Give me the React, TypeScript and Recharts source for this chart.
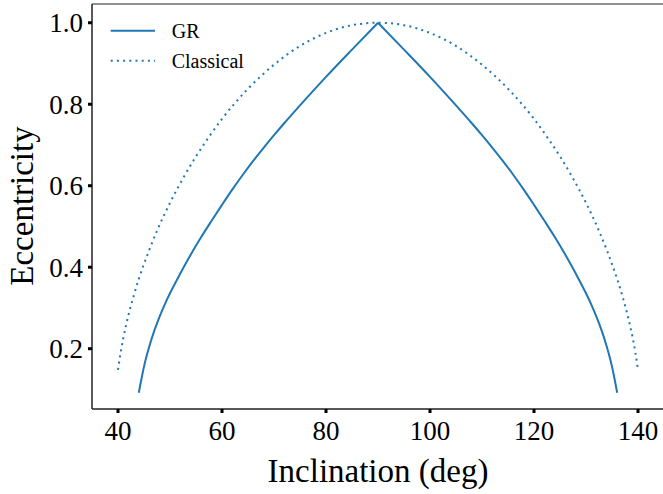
import React from 'react';
import { LineChart, Line, XAxis, YAxis, Legend, ReferenceArea } from 'recharts';

const BLUE = '#1f77b4';
const FONT = '"Liberation Serif", "DejaVu Serif", serif';

const X_DOMAIN = [35, 145];
const Y_DOMAIN = [0.052, 1.046];
const X_TICKS = [40, 60, 80, 100, 120, 140];
const Y_TICKS = [0.2, 0.4, 0.6, 0.8, 1.0];

// GR curve (solid); split at the cusp so each side stays smooth
const grLeftIncl = [44, 44.3, 44.7, 45, 45.5, 46, 47, 48, 49, 50, 52, 54, 56, 58, 60, 62, 64, 66, 68, 70, 72, 75, 80, 85, 90];
const grLeftEcc = [
  0.092, 0.112, 0.138, 0.156, 0.182, 0.205, 0.245, 0.279, 0.309, 0.336, 0.385, 0.431, 0.474, 0.514, 0.553,
  0.591, 0.627, 0.661, 0.693, 0.724, 0.754, 0.797, 0.867, 0.934, 1.0,
];
const grRightIncl = [90, 95, 100, 105, 108, 110, 112, 114, 116, 118, 120, 122, 124, 126, 128, 130, 131, 132, 133, 134, 134.5, 135, 135.3, 135.7, 136];
const grRightEcc = [
  1.0, 0.934, 0.867, 0.797, 0.754, 0.724, 0.693, 0.661, 0.627, 0.591, 0.553, 0.514, 0.474, 0.431, 0.385,
  0.336, 0.309, 0.279, 0.245, 0.205, 0.182, 0.156, 0.138, 0.112, 0.092,
];

// Classical curve (dotted)
const clIncl = [
  40, 40.5, 41, 41.5, 42, 43, 44, 45, 46, 47.5, 50, 52.5, 55, 57.5, 60, 62.5, 65, 70, 75, 80, 85, 90,
  95, 100, 105, 110, 115, 117.5, 120, 122.5, 125, 127.5, 130, 132.5, 134, 135, 136, 137, 138, 138.5, 139,
  139.5, 140,
];
const clEcc = [
  0.148, 0.19, 0.225, 0.255, 0.282, 0.329, 0.371, 0.408, 0.442, 0.489, 0.558, 0.618, 0.672, 0.72, 0.764,
  0.803, 0.838, 0.897, 0.943, 0.975, 0.994, 1.0, 0.994, 0.975, 0.943, 0.897, 0.838, 0.803, 0.764, 0.72,
  0.672, 0.618, 0.558, 0.489, 0.442, 0.408, 0.371, 0.329, 0.282, 0.255, 0.225, 0.19, 0.148,
];

const grLeft = grLeftIncl.map((x, i) => ({ x, y: grLeftEcc[i] }));
const grRight = grRightIncl.map((x, i) => ({ x, y: grRightEcc[i] }));
const clData = clIncl.map((x, i) => ({ x, y: clEcc[i] }));

function LegendBox() {
  return (
    <svg width={180} height={64} style={{ display: 'block' }}>
      <line x1={10.7} x2={55} y1={14.7} y2={14.7} stroke={BLUE} strokeWidth={2} />
      <text x={71.7} y={21.5} fontFamily={FONT} fontSize={20} fill="#000">GR</text>
      <line x1={10.7} x2={55} y1={44.7} y2={44.7} stroke={BLUE} strokeWidth={2} strokeDasharray="2 4.2" />
      <text x={71.7} y={51.5} fontFamily={FONT} fontSize={20} fill="#000">Classical</text>
    </svg>
  );
}

export default function App() {
  const tickStyle = { fontFamily: FONT, fontSize: 27, fill: '#000' };
  return (
    <div style={{ position: 'absolute', left: 0, top: 0, width: 663, height: 494, overflow: 'hidden', background: '#fff' }}>
      <LineChart width={664} height={494} margin={{ top: 4, right: 0, bottom: 0, left: 0 }}>
        <XAxis
          dataKey="x"
          type="number"
          domain={X_DOMAIN}
          ticks={X_TICKS}
          allowDataOverflow
          height={85}
          tick={tickStyle}
          tickSize={4}
          tickMargin={8}
          axisLine={{ stroke: '#222', strokeWidth: 1 }}
          tickLine={{ stroke: '#000', strokeWidth: 3 }}
          label={{
            content: () => (
              <text x={378} y={482} textAnchor="middle" fontFamily={FONT} fontSize={33} fill="#000">
                Inclination (deg)
              </text>
            ),
          }}
        />
        <YAxis
          type="number"
          domain={Y_DOMAIN}
          ticks={Y_TICKS}
          allowDataOverflow
          width={92}
          tick={tickStyle}
          tickSize={4}
          tickMargin={5}
          tickFormatter={(v: number) => v.toFixed(1)}
          axisLine={{ stroke: '#222', strokeWidth: 1 }}
          tickLine={{ stroke: '#000', strokeWidth: 3 }}
          label={{
            content: () => (
              <text
                x={33}
                y={206}
                transform="rotate(-90, 33, 206)"
                textAnchor="middle"
                fontFamily={FONT}
                fontSize={33}
                fill="#000"
              >
                Eccentricity
              </text>
            ),
          }}
        />
        {/* frame around the plot area */}
        <ReferenceArea
          x1={X_DOMAIN[0]}
          x2={X_DOMAIN[1]}
          y1={Y_DOMAIN[0]}
          y2={Y_DOMAIN[1]}
          fill="none"
          fillOpacity={0}
          stroke="#222"
          strokeWidth={1}
          ifOverflow="visible"
        />
        <Legend
          layout="horizontal"
          verticalAlign="middle"
          align="center"
          wrapperStyle={{ left: 100, top: 16, width: 180, height: 64 }}
          content={() => <LegendBox />}
        />
        <Line
          data={grLeft}
          dataKey="y"
          name="GR"
          type="monotone"
          stroke={BLUE}
          strokeWidth={2}
          dot={false}
          isAnimationActive={false}
        />
        <Line
          data={grRight}
          dataKey="y"
          name="GR "
          type="monotone"
          stroke={BLUE}
          strokeWidth={2}
          dot={false}
          isAnimationActive={false}
        />
        <Line
          data={clData}
          dataKey="y"
          name="Classical"
          type="monotone"
          stroke={BLUE}
          strokeWidth={2}
          strokeDasharray="2 4.2"
          dot={false}
          isAnimationActive={false}
        />
      </LineChart>
    </div>
  );
}
